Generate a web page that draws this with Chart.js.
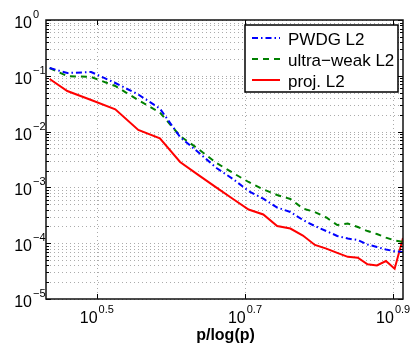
<!DOCTYPE html>
<html lang="en">
<head>
  <meta charset="UTF-8">
  <title>L2 error vs p/log(p)</title>
  <script src="https://cdn.jsdelivr.net/npm/chart.js"></script>
  <style>
    html, body { margin: 0; padding: 0; background: #fff; }
    #wrap { width: 411px; height: 346px; position: relative; }
  </style>
</head>
<body>
  <div id="wrap"><canvas id="errChart"></canvas></div>

  <script>
    // x = p/log(p), p = 3 .. 27
    const xVals = [2.731, 2.885, 3.107, 3.349, 3.597, 3.847, 4.096, 4.343, 4.587, 4.829, 5.068, 5.305, 5.539,
                   5.771, 6.000, 6.228, 6.453, 6.676, 6.898, 7.117, 7.335, 7.552, 7.767, 7.980, 8.190];
    const pwdgL2 = [0.138, 0.112, 0.117, 0.0743, 0.0462, 0.0259, 0.0080, 0.00417, 0.00223, 0.00141, 8.6e-4, 6.27e-4, 4.36e-4,
                    3.62e-4, 2.61e-4, 2.03e-4, 1.65e-4, 1.35e-4, 1.21e-4, 1.14e-4, 9.5e-5, 8.55e-5, 7.7e-5, 7.2e-5, 6.95e-5];
    const ultraWeakL2 = [0.138, 0.099, 0.095, 0.0656, 0.0368, 0.022, 0.00834, 0.00478, 0.00274, 0.00181, 0.00125, 9.2e-4, 7.3e-4,
                         6.2e-4, 4.19e-4, 3.62e-4, 2.89e-4, 2.12e-4, 2.25e-4, 1.95e-4, 1.65e-4, 1.46e-4, 1.26e-4, 1.12e-4, 1.06e-4];
    const projL2 = [0.0877, 0.0534, 0.0368, 0.0251, 0.0107, 0.00758, 0.00285, 0.00164, 9.9e-4, 6.19e-4, 4.02e-4, 3.27e-4, 2.03e-4,
                    1.83e-4, 1.37e-4, 9.3e-5, 8.0e-5, 6.7e-5, 5.7e-5, 5.5e-5, 4.2e-5, 4.0e-5, 4.8e-5, 3.5e-5, 1.24e-4];

    const xTickExps = ['0.5', '0.7', '0.9'];
    const yTickExps = ['0', '\u22121', '\u22122', '\u22123', '\u22124', '\u22125'];
    const seriesNames = ['PWDG L2', 'ultra\u2212weak L2', 'proj. L2'];
    const xTitle = 'p/log(p)';

    const FONT = '"Liberation Sans", Arial, Helvetica, sans-serif';
    const expNum = s => parseFloat(s.replace('\u2212', '-'));

    // minor y values 2..9 x 10^k inside each decade
    const yMinor = [];
    yTickExps.forEach(e => {
      const k = expNum(e);
      if (k > -5) for (let m = 2; m <= 9; m++) yMinor.push(m * Math.pow(10, k - 1));
    });

    function drawPow(ctx, exp, x, y, mode) {
      // "10" with superscript exponent; mode 'right' = "10" ends at x, 'center' = whole label centred on x
      ctx.font = '16px ' + FONT;
      const wb = ctx.measureText('10').width;
      ctx.font = '11px ' + FONT;
      const we = ctx.measureText(exp).width;
      let x0 = mode === 'center' ? x - (wb + 1 + we) / 2 : x - wb;
      ctx.textAlign = 'left';
      ctx.textBaseline = 'alphabetic';
      ctx.font = '16px ' + FONT;
      ctx.fillText('10', x0, y);
      ctx.font = '11px ' + FONT;
      ctx.fillText(exp, x0 + wb + 1, y - 10);
    }

    const matlabAxes = {
      id: 'matlabAxes',
      beforeDatasetsDraw(chart) {
        const { ctx, chartArea: a, scales: { x, y } } = chart;
        ctx.save();
        ctx.strokeStyle = '#ababab';
        ctx.lineWidth = 1;
        ctx.setLineDash([1, 3]);
        const yLines = yTickExps.map(e => Math.pow(10, expNum(e))).concat(yMinor);
        yLines.forEach(v => {
          const py = Math.round(y.getPixelForValue(v)) + 0.5;
          ctx.beginPath(); ctx.moveTo(a.left, py); ctx.lineTo(a.right, py); ctx.stroke();
        });
        xTickExps.forEach(e => {
          const px = Math.round(x.getPixelForValue(Math.pow(10, expNum(e)))) + 0.5;
          ctx.beginPath(); ctx.moveTo(px, a.top); ctx.lineTo(px, a.bottom); ctx.stroke();
        });
        ctx.restore();
      },
      afterDraw(chart) {
        const { ctx, chartArea: a, scales: { x, y } } = chart;
        ctx.save();
        ctx.setLineDash([]);
        ctx.strokeStyle = '#000';
        ctx.fillStyle = '#000';

        // tick marks, inward on both sides
        ctx.lineWidth = 1;
        yTickExps.forEach(e => {
          const py = Math.round(y.getPixelForValue(Math.pow(10, expNum(e)))) + 0.5;
          ctx.beginPath();
          ctx.moveTo(a.left, py); ctx.lineTo(a.left + 5, py);
          ctx.moveTo(a.right, py); ctx.lineTo(a.right - 5, py);
          ctx.stroke();
        });
        yMinor.forEach(v => {
          const py = Math.round(y.getPixelForValue(v)) + 0.5;
          ctx.beginPath();
          ctx.moveTo(a.left, py); ctx.lineTo(a.left + 3, py);
          ctx.moveTo(a.right, py); ctx.lineTo(a.right - 3, py);
          ctx.stroke();
        });
        xTickExps.forEach(e => {
          const px = Math.round(x.getPixelForValue(Math.pow(10, expNum(e)))) + 0.5;
          ctx.beginPath();
          ctx.moveTo(px, a.bottom); ctx.lineTo(px, a.bottom - 5);
          ctx.moveTo(px, a.top); ctx.lineTo(px, a.top + 5);
          ctx.stroke();
        });

        // box
        ctx.lineWidth = 1.5;
        ctx.strokeStyle = '#111';
        ctx.strokeRect(a.left, a.top, a.right - a.left, a.bottom - a.top);

        // tick labels
        yTickExps.forEach(e => {
          const py = y.getPixelForValue(Math.pow(10, expNum(e)));
          drawPow(ctx, e, a.left - 14, py + 8, 'right');
        });
        xTickExps.forEach(e => {
          const px = x.getPixelForValue(Math.pow(10, expNum(e)));
          drawPow(ctx, e, px, a.bottom + 24, 'center');
        });

        // x title
        ctx.font = 'bold 16px ' + FONT;
        ctx.textAlign = 'center';
        ctx.fillText(xTitle, (a.left + a.right) / 2 + 1, a.bottom + 41);

        // legend
        const lx = a.right - 158, ly = a.top + 5, lw = 153, lh = 67;
        ctx.fillStyle = '#fff';
        ctx.fillRect(lx, ly, lw, lh);
        ctx.lineWidth = 1.5;
        ctx.strokeStyle = '#000';
        ctx.strokeRect(lx, ly, lw, lh);
        chart.data.datasets.forEach((ds, i) => {
          const cy = ly + 13 + i * 21;
          ctx.save();
          ctx.strokeStyle = ds.borderColor;
          ctx.lineWidth = ds.borderWidth;
          ctx.setLineDash(ds.borderDash || []);
          ctx.beginPath(); ctx.moveTo(lx + 7, cy); ctx.lineTo(lx + 35, cy); ctx.stroke();
          ctx.restore();
          ctx.fillStyle = '#000';
          ctx.font = '17px ' + FONT;
          ctx.textAlign = 'left';
          ctx.textBaseline = 'alphabetic';
          ctx.fillText(ds.label, lx + 43, cy + 7);
        });
        ctx.restore();
      }
    };

    const pts = arr => xVals.map((xv, i) => ({ x: xv, y: arr[i] }));

    new Chart(document.getElementById('errChart').getContext('2d'), {
      type: 'line',
      data: {
        datasets: [
          { label: seriesNames[0], data: pts(pwdgL2), borderColor: '#0000ff', borderWidth: 2, borderDash: [6, 3, 1.5, 3] },
          { label: seriesNames[1], data: pts(ultraWeakL2), borderColor: '#008000', borderWidth: 2, borderDash: [6, 5] },
          { label: seriesNames[2], data: pts(projL2), borderColor: '#ff0000', borderWidth: 2 }
        ]
      },
      options: {
        responsive: true,
        maintainAspectRatio: false,
        animation: false,
        elements: { point: { radius: 0 }, line: { tension: 0, fill: false } },
        layout: { padding: { left: 46, right: 8, top: 20, bottom: 47 } },
        plugins: { legend: { display: false }, tooltip: { enabled: false } },
        scales: {
          x: {
            type: 'logarithmic', min: xVals[0], max: xVals[xVals.length - 1],
            ticks: { display: false }, grid: { display: false, drawTicks: false }, border: { display: false }
          },
          y: {
            type: 'logarithmic', min: 1e-5, max: 1,
            ticks: { display: false }, grid: { display: false, drawTicks: false }, border: { display: false }
          }
        }
      },
      plugins: [matlabAxes]
    });
  </script>
</body>
</html>
